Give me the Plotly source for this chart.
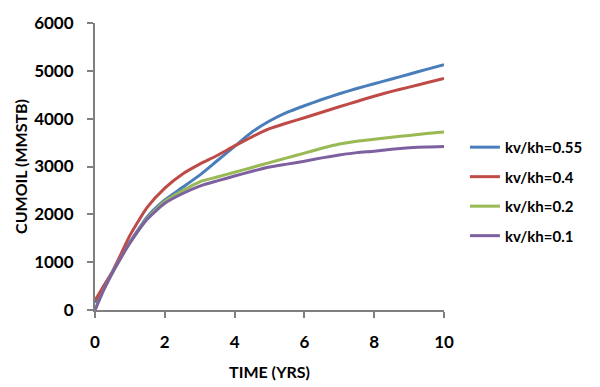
import plotly.graph_objects as go

years = [0, 0.25, 0.5, 0.75, 1, 1.5, 2, 2.5, 3, 3.5, 4, 4.5, 5, 5.5, 6, 6.5, 7, 7.5, 8, 8.5, 9, 9.5, 10]
kv055 = [150, 500, 800, 1130, 1420, 1950, 2300, 2560, 2820, 3120, 3420, 3720, 3950, 4130, 4270, 4400, 4520, 4630, 4730, 4830, 4930, 5030, 5130]
kv04 = [200, 500, 800, 1180, 1560, 2150, 2550, 2840, 3050, 3230, 3430, 3620, 3790, 3910, 4020, 4135, 4250, 4360, 4470, 4570, 4660, 4750, 4840]
kv02 = [0, 420, 780, 1100, 1400, 1920, 2270, 2490, 2680, 2780, 2880, 2980, 3080, 3180, 3280, 3380, 3470, 3530, 3570, 3610, 3650, 3690, 3720]
kv01 = [0, 420, 780, 1100, 1400, 1900, 2230, 2430, 2590, 2700, 2800, 2900, 2990, 3050, 3110, 3180, 3240, 3290, 3320, 3360, 3390, 3410, 3420]

names = ["kv/kh=0.55", "kv/kh=0.4", "kv/kh=0.2", "kv/kh=0.1"]
series = [kv055, kv04, kv02, kv01]
colors = ["#4A7EBB", "#BE4B48", "#98B954", "#7D60A0"]

x_ticks = [0, 2, 4, 6, 8, 10]
y_ticks = [0, 1000, 2000, 3000, 4000, 5000, 6000]

FONT = "Lato"
fig = go.Figure()
for n, s, c in zip(names, series, colors):
    fig.add_trace(go.Scatter(x=years, y=s, name=n, mode="lines", legendgroup=n,
                             line=dict(color=c, width=3, shape="spline", smoothing=0.6)))

axis_common = dict(showgrid=False, zeroline=False, showline=True, linecolor="#7F7F7F", linewidth=2,
                   ticks="outside", ticklen=6, tickwidth=1.5, tickcolor="#7F7F7F",
                   tickfont=dict(family=FONT, size=17, color="black", weight="bold"))
fig.update_xaxes(range=[0, 10], tickvals=x_ticks, ticklabelstandoff=10, automargin=False, **axis_common,
                 title=dict(text="TIME (YRS)", font=dict(family=FONT, size=16, color="black", weight="bold")))
fig.update_yaxes(range=[0, 6000], tickvals=y_ticks, ticklabelstandoff=10, automargin=True, **axis_common,
                 title=dict(text="CUMOIL (MMSTB)", font=dict(family=FONT, size=16, color="black", weight="bold"), standoff=3))
fig.update_layout(
    width=600, height=387, plot_bgcolor="white", paper_bgcolor="white",
    margin=dict(l=95, r=156, t=21, b=77),
    legend=dict(x=1.06, y=0.624, xanchor="left", yanchor="top", tracegroupgap=7,
                font=dict(family=FONT, size=15, color="black", weight="bold")),
)
fig.write_html("out.html", config={"displayModeBar": False},
               post_script="document.body.style.margin='0px';")
